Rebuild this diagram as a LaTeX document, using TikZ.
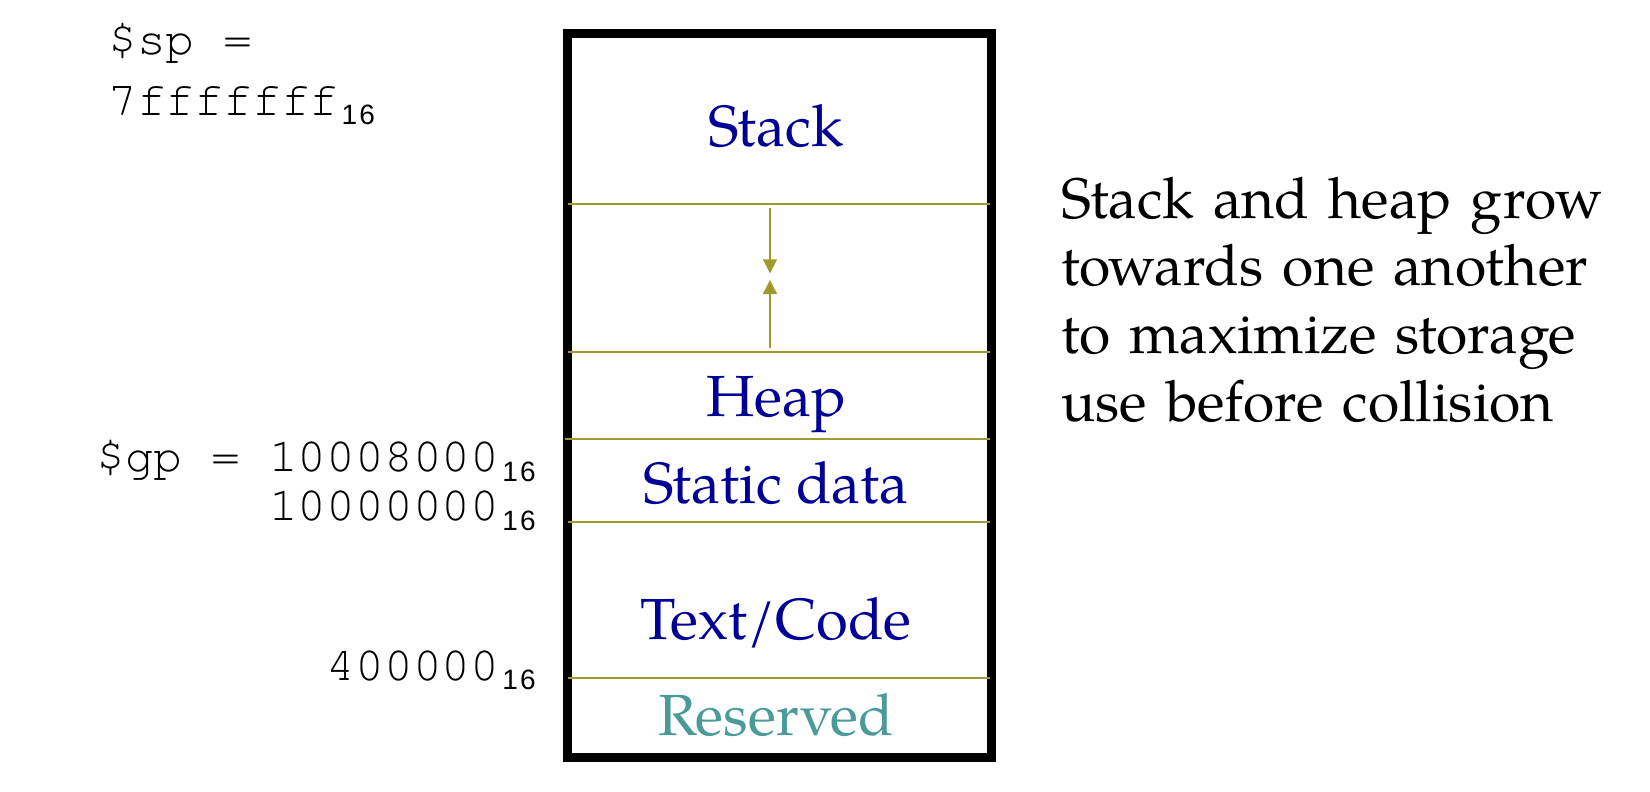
\documentclass[tikz,border=0pt]{standalone}
\usepackage{fontspec}
\setmainfont{texgyrepagella}[Extension=.otf, UprightFont=*-regular, BoldFont=*-bold]
\newfontfamily\cour{texgyrecursor}[Extension=.otf, UprightFont=*-regular, BoldFont=*-bold, Ligatures={NoCommon,NoRequired}]
\newfontfamily\subf{Liberation Sans}[LetterSpace=8]
\usetikzlibrary{arrows.meta}
\definecolor{navy}{RGB}{0,0,150}
\definecolor{tealres}{RGB}{74,154,154}
\definecolor{olivel}{RGB}{158,154,46}
\newcommand{\hexsub}[1]{\kern3pt\raisebox{-9.5pt}{\subf\fontsize{28}{28}\selectfont #1}}
\begin{document}
\begin{tikzpicture}[x=1pt,y=-1pt,
  seglabel/.style={font=\fontsize{58}{68}\selectfont, text=navy, anchor=base, inner sep=0pt},
  divider/.style={draw=olivel, line width=1.7pt},
  addr/.style={font=\cour\fontsize{48}{60}\selectfont, inner sep=0pt, anchor=base east},
  growarrow/.style={draw=olivel, line width=1.5pt, -{Triangle[width=14pt,length=14pt]}},
  membox/.style={draw=black, line width=9.5pt, inner sep=0pt, minimum width=424pt, minimum height=724pt}
]
\useasboundingbox (0,0) rectangle (1650,792);

% memory box
\node[membox] (mem) at (779.5,395.5) {};

% dividers
\coordinate (d1l) at (568,204);   \coordinate (d1r) at (990,204);
\coordinate (d2l) at (568,352.3); \coordinate (d2r) at (990,352.3);
\coordinate (d3l) at (565,439);   \coordinate (d3r) at (990,439);
\coordinate (d4l) at (568,522.3); \coordinate (d4r) at (990,522.3);
\coordinate (d5l) at (568,677.7); \coordinate (d5r) at (990,677.7);
\draw[divider] (d1l) -- (d1r);
\draw[divider] (d2l) -- (d2r);
\draw[divider] (d3l) -- (d3r);
\draw[divider] (d4l) -- (d4r);
\draw[divider] (d5l) -- (d5r);

% growth arrows
\coordinate (a1s) at (770,207.7); \coordinate (a1e) at (770,273.3);
\coordinate (a2s) at (770,347.7); \coordinate (a2e) at (770,280);
\draw[growarrow] (a1s) -- (a1e);
\draw[growarrow] (a2s) -- (a2e);

% segment labels
\node[seglabel] (stack) at (776,146.7) {Stack};
\node[seglabel] (heap) at (776,416) {Heap};
\node[seglabel] (static) at (776,503.3) {Static data};
\node[seglabel] (code) at (776,639.3) {Text/Code};
\node[seglabel, text=tealres] (res) at (776,735) {Reserved};

% addresses
\node[addr, anchor=base west] (sp1) at (108,55) {\$sp =};
\node[addr, anchor=base west] (sp2) at (108,115) {7fffffff\hexsub{16}};
\node[addr] (gp) at (536,471.7) {\$gp = 10008000\hexsub{16}};
\node[addr] (dat) at (536,520.7) {10000000\hexsub{16}};
\node[addr] (txt) at (536,680) {400000\hexsub{16}};

% note
\node[anchor=base west, text width=580pt, align=left, inner sep=0pt,
      font=\fontsize{57}{67.7}\selectfont] (note) at (1061,218)
  {Stack and heap grow\\towards one another\\to maximize storage\\use before collision};
\end{tikzpicture}
\end{document}
